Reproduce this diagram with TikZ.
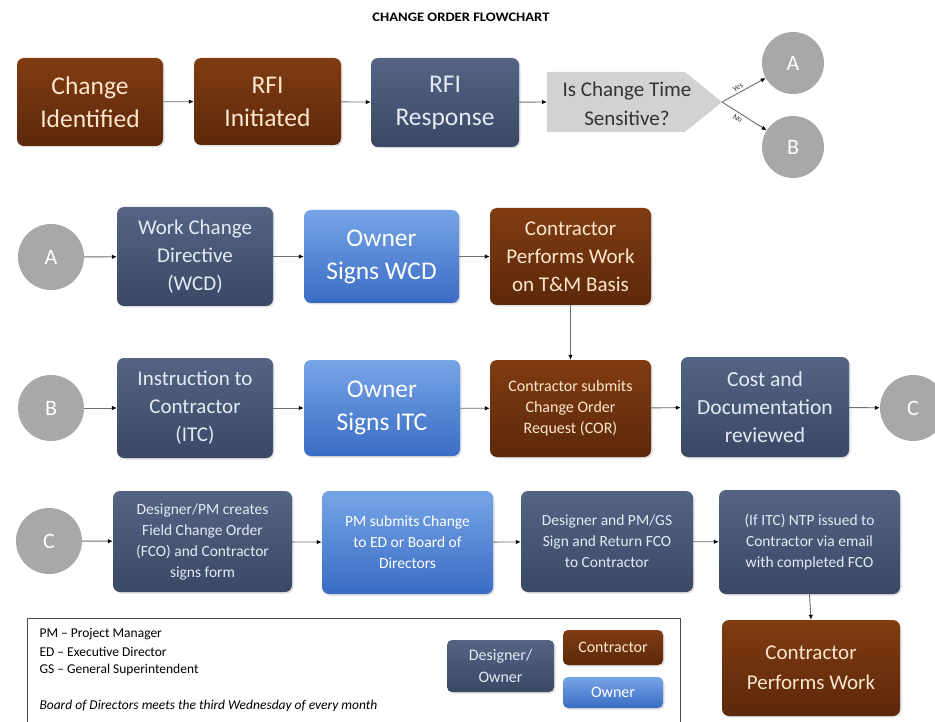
\documentclass[tikz,border=0pt]{standalone}
\usepackage{fontspec}
\setmainfont{Carlito}
\usetikzlibrary{arrows.meta,shadows}
\definecolor{brT}{RGB}{128,60,18}
\definecolor{brB}{RGB}{92,40,10}
\definecolor{dsT}{RGB}{84,100,130}
\definecolor{dsB}{RGB}{58,72,100}
\definecolor{owT}{RGB}{118,165,230}
\definecolor{owB}{RGB}{58,108,196}
\definecolor{circ}{RGB}{168,168,168}
\definecolor{qfill}{RGB}{210,210,210}
\definecolor{lnk}{RGB}{110,110,110}
\definecolor{cream}{RGB}{252,230,205}
\definecolor{pale}{RGB}{228,234,246}
\tikzset{
  bx/.style={rounded corners=7pt, align=center, inner sep=2pt, anchor=center,
    drop shadow={opacity=0.25, shadow xshift=1.5pt, shadow yshift=-1.5pt}},
  cbox/.style={bx, top color=brT, bottom color=brB, text=cream},
  dbox/.style={bx, top color=dsT, bottom color=dsB, text=pale},
  obox/.style={bx, top color=owT, bottom color=owB, text=white},
  circnode/.style={circle, fill=circ, text=white, minimum size=#1, inner sep=0pt, font=\fontsize{22}{24}\selectfont},
  arr/.style={draw=lnk, line width=0.9pt, -{Latex[length=5pt,width=4.5pt,color=black]}},
  big/.style={font=\fontsize{25.5}{33}\selectfont},
  med/.style={font=\fontsize{21}{28}\selectfont},
  sml/.style={font=\fontsize{15.5}{21}\selectfont},
  lgtext/.style={anchor=west,font=\fontsize{13.5}{15}\selectfont},
  lgbox/.style={font=\fontsize{16}{22}\selectfont,rounded corners=5pt},
  yn/.style={sloped,font=\fontsize{8}{9}\selectfont,text=black!80,inner sep=0.5pt},
}
\begin{document}
\begin{tikzpicture}[x=1pt,y=-1pt]
\useasboundingbox (0,0) rectangle (935,722);
\fill[white] (0,0) rectangle (935,722);
\node[font=\bfseries\fontsize{13}{14}\selectfont\addfontfeature{FakeStretch=1.12}] (title) at (461,17) {CHANGE ORDER FLOWCHART};
% Row 1
\node[cbox,big,minimum width=146pt,minimum height=88pt] (ci) at (90,102) {Change\\Identified};
\node[cbox,big,minimum width=147pt,minimum height=87pt] (ri) at (267.5,101.5) {RFI\\Initiated};
\node[dbox,big,minimum width=148pt,minimum height=89pt] (rr) at (445,102.5) {RFI\\Response};
\fill[qfill] (547,72) -- (685,72) -- (722,102) -- (685,132) -- (547,132) -- cycle;
\coordinate (qtip) at (722,102);
\coordinate (qin) at (547,102);
\node[align=center,text=black!80,font=\fontsize{21}{29}\selectfont] (q) at (627,104) {Is Change Time\\Sensitive?};
\node[circnode=62pt] (A1) at (793,63) {A};
\node[circnode=62pt] (B1) at (793,147) {B};
\draw[arr] (ci) -- (ri);
\draw[arr] (ri) -- (rr);
\draw[arr] (rr) -- (qin);
\draw[arr] (qtip) -- node[yn,pos=0.42,above=1.5pt] {Yes} (A1);
\draw[arr] (qtip) -- node[yn,pos=0.42,below=2pt] {No} (B1);
% Row 2
\node[circnode=66pt] (A2) at (51,257) {A};
\node[dbox,med,minimum width=156pt,minimum height=99pt] (wcd) at (195,256.5) {Work Change\\Directive\\(WCD)};
\node[obox,big,minimum width=155pt,minimum height=93pt] (osw) at (381.5,256.5) {Owner\\Signs WCD};
\node[cbox,med,minimum width=161pt,minimum height=97pt] (cpw) at (570.5,256.5) {Contractor\\Performs Work\\on T\&M Basis};
\draw[arr] (A2) -- (wcd);
\draw[arr] (wcd) -- (osw);
\draw[arr] (osw) -- (cpw);
% Row 3
\node[circnode=66pt] (B2) at (51,408) {B};
\node[dbox,med,minimum width=156pt,minimum height=100pt] (itc) at (195,408) {Instruction to\\Contractor\\(ITC)};
\node[obox,big,minimum width=156pt,minimum height=96pt] (osi) at (382,408) {Owner\\Signs ITC};
\node[cbox,font=\fontsize{16}{21}\selectfont,minimum width=161pt,minimum height=97pt] (cor) at (570.5,408.5) {Contractor submits\\Change Order\\Request (COR)};
\node[dbox,font=\fontsize{21.5}{28}\selectfont,minimum width=168pt,minimum height=100pt] (cdr) at (765,407) {Cost and\\Documentation\\reviewed};
\node[circnode=66pt] (C1) at (913,408) {C};
\draw[arr] (B2) -- (itc);
\draw[arr] (itc) -- (osi);
\draw[arr] (osi) -- (cor);
\draw[arr] (cor) -- (cdr);
\draw[arr] (cdr) -- (C1);
\draw[arr] (cpw.south) -- (cor.north);
% Row 4
\node[circnode=66pt] (C2) at (49,541) {C};
\node[dbox,sml,minimum width=179pt,minimum height=101pt] (fco) at (202.5,541.5) {Designer/PM creates\\Field Change Order\\(FCO) and Contractor\\signs form};
\node[obox,sml,minimum width=171pt,minimum height=103pt] (pms) at (407.5,542.5) {PM submits Change\\to ED or Board of\\Directors};
\node[dbox,sml,minimum width=172pt,minimum height=101pt] (dps) at (607,541.5) {Designer and PM/GS\\Sign and Return FCO\\to Contractor};
\node[dbox,sml,minimum width=181pt,minimum height=104pt] (ntp) at (809.5,542) {(If ITC) NTP issued to\\Contractor via email\\with completed FCO};
\node[cbox,font=\fontsize{21}{30}\selectfont,minimum width=178pt,minimum height=96pt] (cpwk) at (811,668) {Contractor\\Performs Work};
\draw[arr] (C2) -- (fco);
\draw[arr] (fco) -- (pms);
\draw[arr] (pms) -- (dps);
\draw[arr] (dps) -- (ntp);
\draw[arr] (ntp.south) -- (cpwk.north);
% Legend
\draw[black!70, line width=0.8pt] (27,725) -- (27,618) -- (680,618) -- (680,725);
\node[lgtext] (l1) at (36,634) {PM – Project Manager};
\node[lgtext] (l2) at (36,652) {ED – Executive Director};
\node[lgtext] (l3) at (36,670) {GS – General Superintendent};
\node[lgtext,font=\itshape\fontsize{13.5}{15}\selectfont] (l4) at (36,706) {Board of Directors meets the third Wednesday of every month};
\node[dbox,lgbox,minimum width=107pt,minimum height=52pt] (lgd) at (500.5,666) {Designer/\\Owner};
\node[cbox,lgbox,minimum width=100pt,minimum height=35pt] (lgc) at (613,647.5) {Contractor};
\node[obox,lgbox,minimum width=100pt,minimum height=31pt] (lgo) at (613,692.5) {Owner};
\end{tikzpicture}
\end{document}
